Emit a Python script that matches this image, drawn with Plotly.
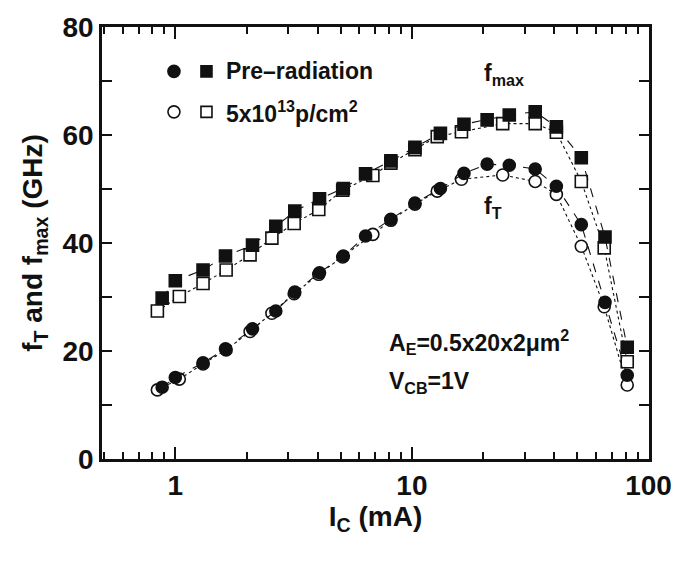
import numpy as np
import plotly.graph_objects as go

# Collector current (mA) and cut-off / max oscillation frequencies (GHz)
ic_pre = [0.88, 1.0, 1.31, 1.63, 2.12, 2.66, 3.2, 4.07, 5.13, 6.37, 8.15,
          10.3, 13.2, 16.6, 20.8, 25.8, 33.2, 40.8, 52.0, 65.5, 81.3]
fmax_pre = [29.8, 33.0, 35.0, 37.6, 39.6, 43.1, 45.9, 48.2, 50.1, 52.8, 55.2,
            57.7, 60.3, 62.0, 62.8, 63.7, 64.3, 61.5, 55.8, 41.1, 20.7]
ft_pre = [13.3, 15.1, 17.8, 20.4, 24.1, 27.4, 30.9, 34.5, 37.6, 41.3, 44.4,
          47.4, 50.1, 52.9, 54.6, 54.4, 53.7, 50.5, 43.4, 29.0, 15.5]

ic_post = [0.84, 1.04, 1.31, 1.64, 2.07, 2.56, 3.18, 4.04, 5.1, 6.84, 8.15,
           10.3, 12.8, 16.2, 24.2, 33.2, 40.8, 52.0, 65.0, 81.3]
fmax_post = [27.4, 30.1, 32.5, 35.0, 37.8, 40.9, 43.6, 46.2, 49.8, 52.5, 54.8,
             57.3, 59.7, 60.6, 62.1, 62.1, 60.5, 51.4, 39.1, 18.0]
ft_post = [12.8, 14.8, 17.6, 20.2, 23.6, 27.0, 30.6, 34.2, 37.4, 41.6, 44.2,
           47.2, 49.6, 51.8, 52.6, 51.4, 49.0, 39.4, 28.2, 13.7]

y_ticks = [0, 20, 40, 60, 80]
x_ticks = [1, 10, 100]
x_tick_text = ["1", "10", "100"]

FONT = "Liberation Sans, Arial, Helvetica, sans-serif"
BLACK = "#111111"

fig = go.Figure()


def add_series(x, y, symbol, filled, dash):
    fig.add_trace(go.Scatter(
        x=x, y=y, mode="lines+markers", showlegend=False,
        line=dict(color=BLACK, width=1.1, dash=dash),
        marker=dict(symbol=symbol, size=12, color=BLACK if filled else "white",
                    line=dict(color=BLACK, width=1.6)),
    ))


# irradiated device first (open symbols), pre-radiation on top (filled)
add_series(ic_post, fmax_post, "square", False, "dot")
add_series(ic_post, ft_post, "circle", False, "dot")
add_series(ic_pre, fmax_pre, "square", True, "dash")
add_series(ic_pre, ft_pre, "circle", True, "dash")

# plot-area geometry in pixels (for placing text / legend keys)
L, R, T, B = 102, 657, 24.6, 459.4


def px(x):
    return (x - L) / (R - L)


def py(y):
    return (B - y) / (B - T)


ann_font = dict(family=FONT, size=23, color=BLACK, weight="bold")

# legend keys
legend_rows = [(69.3, True, "Pre–radiation"), (110, False, "5x10<sup>13</sup>p/cm<sup>2</sup>")]
for yrow, filled, label in legend_rows:
    fill = BLACK if filled else "white"
    fig.add_shape(type="circle", xref="paper", yref="paper",
                  xsizemode="pixel", ysizemode="pixel",
                  xanchor=px(175), yanchor=py(yrow), x0=-6, x1=6, y0=-6, y1=6,
                  fillcolor=fill, line=dict(color=BLACK, width=1.6))
    fig.add_shape(type="rect", xref="paper", yref="paper",
                  xsizemode="pixel", ysizemode="pixel",
                  xanchor=px(208), yanchor=py(yrow), x0=-5.5, x1=5.5, y0=-5.5, y1=5.5,
                  fillcolor=fill, line=dict(color=BLACK, width=1.6))
    fig.add_annotation(x=px(226), y=py(yrow), xref="paper", yref="paper",
                       text=label, showarrow=False, xanchor="left", yanchor="middle",
                       font=ann_font)

fig.add_annotation(x=px(488), y=py(72), xref="paper", yref="paper",
                   text="f<sub>max</sub>", showarrow=False, xanchor="left",
                   yanchor="middle", font=ann_font)
fig.add_annotation(x=px(488), y=py(206), xref="paper", yref="paper",
                   text="f<sub>T</sub>", showarrow=False, xanchor="left",
                   yanchor="middle", font=ann_font)
fig.add_annotation(x=px(391), y=py(342), xref="paper", yref="paper",
                   text="A<sub>E</sub>=0.5x20x2μm<sup>2</sup>", showarrow=False,
                   xanchor="left", yanchor="middle", font=ann_font)
fig.add_annotation(x=px(391), y=py(382), xref="paper", yref="paper",
                   text="V<sub>CB</sub>=1V", showarrow=False,
                   xanchor="left", yanchor="middle", font=ann_font)

axis_common = dict(
    showline=True, linecolor=BLACK, linewidth=2.5, mirror="allticks",
    ticks="inside", tickcolor=BLACK, tickwidth=2,
    showgrid=False, zeroline=False,
    tickfont=dict(family=FONT, size=28, color=BLACK, weight="bold"),
    title_font=dict(family=FONT, size=28, color=BLACK, weight="bold"),
)

fig.update_xaxes(
    type="log", range=[np.log10(0.49), np.log10(100.5)],
    tickvals=x_ticks, ticktext=x_tick_text, ticklen=12,
    minor=dict(ticks="inside", ticklen=7, tickwidth=2, tickcolor=BLACK,
               tickvals=[0.5, 0.6, 0.7, 0.8, 0.9, 2, 3, 4, 5, 6, 7, 8, 9,
                         20, 30, 40, 50, 60, 70, 80, 90]),
    title=dict(text="I<sub>C</sub> (mA)", standoff=4),
    **axis_common,
)
fig.update_yaxes(
    range=[0, 80], tickvals=y_ticks, ticklen=10,
    minor=dict(ticks="inside", ticklen=10, tickwidth=2, tickcolor=BLACK, dtick=10),
    title=dict(text="f<sub>T</sub> and f<sub>max</sub> (GHz)", standoff=12),
    **axis_common,
)

fig.update_layout(
    width=684, height=563,
    margin=dict(l=L, r=684 - R, t=T, b=563 - B),
    plot_bgcolor="white", paper_bgcolor="white",
    font=dict(family=FONT, color=BLACK),
)

fig.write_html("out.html")
